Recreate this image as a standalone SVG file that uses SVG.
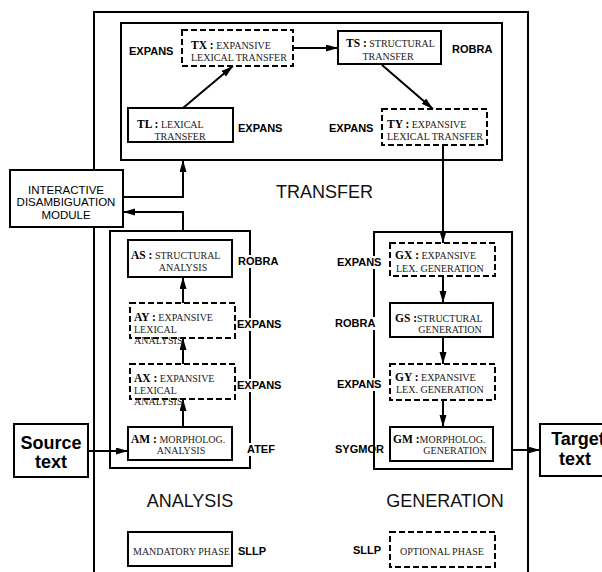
<svg xmlns="http://www.w3.org/2000/svg" width="602" height="572" viewBox="0 0 602 572">
<style>
.box{fill:#fff;stroke:#000;stroke-width:2}
.dbox{fill:#fff;stroke:#000;stroke-width:2;stroke-dasharray:6,3}
.frame{fill:none;stroke:#000;stroke-width:2}
.con{fill:none;stroke:#000;stroke-width:2}
.bg{fill:#fff;stroke:none}
.t{font-family:"Liberation Serif","Times New Roman",serif;font-size:10px;fill:#222}
.b{font-weight:bold;font-size:11.5px;fill:#000}
.lbl{font-family:"Liberation Sans",Arial,sans-serif;font-size:11px;font-weight:bold;fill:#000}
.big{font-family:"Liberation Sans",Arial,sans-serif;font-size:18px;fill:#111}
.st{font-family:"Liberation Sans",Arial,sans-serif;font-size:18px;font-weight:bold;fill:#000;text-anchor:middle}
.idm{font-family:"Liberation Sans",Arial,sans-serif;font-size:11.5px;fill:#000;text-anchor:middle}
</style>
<defs>
<marker id="ah" markerUnits="userSpaceOnUse" markerWidth="13" markerHeight="8" refX="12" refY="3.5" orient="auto">
<path d="M0,0 L12,3.5 L0,7 z" fill="#000"/>
</marker>
</defs>

<g id="frames">
<path class="frame" d="M94,572 V12 H528 V572"/>
<rect class="frame" x="121" y="23" width="381" height="137"/>
<rect class="frame" x="110" y="231" width="140" height="237"/>
<rect class="frame" x="374" y="232" width="138" height="237"/>
</g>

<g id="section-labels">
<text class="big" x="276" y="198">TRANSFER</text>
<text class="big" x="190" y="507" text-anchor="middle">ANALYSIS</text>
<text class="big" x="445" y="507" text-anchor="middle">GENERATION</text>
</g>

<g id="connectors">
<line class="con" x1="183" y1="108" x2="233" y2="66" marker-end="url(#ah)"/>
<line class="con" x1="293" y1="48" x2="338" y2="48" marker-end="url(#ah)"/>
<line class="con" x1="382" y1="65" x2="433" y2="109" marker-end="url(#ah)"/>
<line class="con" x1="443" y1="145" x2="443" y2="243" marker-end="url(#ah)"/>
<line class="con" x1="443" y1="276" x2="443" y2="303" marker-end="url(#ah)"/>
<line class="con" x1="443" y1="337" x2="443" y2="364" marker-end="url(#ah)"/>
<line class="con" x1="443" y1="400" x2="443" y2="427" marker-end="url(#ah)"/>
<line class="con" x1="512" y1="450" x2="540" y2="450" marker-end="url(#ah)"/>
<line class="con" x1="88" y1="451" x2="128" y2="451" marker-end="url(#ah)"/>
<line class="con" x1="183" y1="427" x2="183" y2="399" marker-end="url(#ah)"/>
<line class="con" x1="183" y1="364" x2="183" y2="338" marker-end="url(#ah)"/>
<line class="con" x1="183" y1="303" x2="183" y2="277" marker-end="url(#ah)"/>
<path class="con" d="M123,197 H183 V160" marker-end="url(#ah)"/>
<path class="con" d="M183,231 V212 H123" marker-end="url(#ah)"/>
</g>

<g id="TX">
<rect class="dbox" x="182" y="30" width="111" height="36"/>
<text class="t" x="191" y="49"><tspan class="b">TX :</tspan> EXPANSIVE</text>
<text class="t" x="191" y="61">LEXICAL TRANSFER</text>
<text class="lbl" x="129" y="55">EXPANS</text>
</g>
<g id="TS">
<rect class="box" x="338" y="31" width="103" height="33"/>
<text class="t" x="346" y="47"><tspan class="b">TS :</tspan> STRUCTURAL</text>
<text class="t" x="388" y="60" text-anchor="middle">TRANSFER</text>
<text class="lbl" x="452" y="53">ROBRA</text>
</g>
<g id="TL">
<rect class="box" x="128" y="108" width="105" height="34"/>
<text class="t" x="137" y="128"><tspan class="b">TL :</tspan> LEXICAL</text>
<text class="t" x="180" y="140" text-anchor="middle">TRANSFER</text>
<text class="lbl" x="238" y="132">EXPANS</text>
</g>
<g id="TY">
<rect class="dbox" x="382" y="109" width="105" height="36"/>
<text class="t" x="387" y="128"><tspan class="b">TY :</tspan> EXPANSIVE</text>
<text class="t" x="387" y="140">LEXICAL TRANSFER</text>
<text class="lbl" x="329" y="132">EXPANS</text>
</g>

<g id="IDM">
<rect class="box" x="10" y="170" width="113" height="57"/>
<text class="idm" x="66" y="194">INTERACTIVE</text>
<text class="idm" x="66" y="206">DISAMBIGUATION</text>
<text class="idm" x="66" y="219">MODULE</text>
</g>

<g id="AS">
<rect class="box" x="128" y="240" width="104" height="37"/>
<text class="t" x="131" y="259"><tspan class="b">AS :</tspan> STRUCTURAL</text>
<text class="t" x="183" y="271" text-anchor="middle">ANALYSIS</text>
<rect class="bg" x="237" y="255" width="42" height="13"/>
<text class="lbl" x="238" y="265">ROBRA</text>
</g>
<g id="AY">
<rect class="dbox" x="130" y="303" width="105" height="35"/>
<text class="t" x="134" y="321"><tspan class="b">AY :</tspan> EXPANSIVE</text>
<text class="t" x="134" y="333">LEXICAL</text>
<text class="t" x="134" y="344">ANALYSIS</text>
<rect class="bg" x="237" y="318" width="46" height="13"/>
<text class="lbl" x="237" y="328">EXPANS</text>
</g>
<g id="AX">
<rect class="dbox" x="130" y="364" width="105" height="35"/>
<text class="t" x="134" y="382"><tspan class="b">AX :</tspan> EXPANSIVE</text>
<text class="t" x="134" y="394">LEXICAL</text>
<text class="t" x="134" y="405">ANALYSIS</text>
<rect class="bg" x="237" y="379" width="46" height="13"/>
<text class="lbl" x="237" y="389">EXPANS</text>
</g>
<g id="AM">
<rect class="box" x="128" y="427" width="104" height="33"/>
<text class="t" x="131" y="443"><tspan class="b">AM :</tspan> MORPHOLOG.</text>
<text class="t" x="181" y="454" text-anchor="middle">ANALYSIS</text>
<rect class="bg" x="246" y="443" width="31" height="13"/>
<text class="lbl" x="247" y="453">ATEF</text>
</g>

<g id="source">
<rect class="box" x="14" y="424" width="74" height="53"/>
<text class="st" x="51" y="449">Source</text>
<text class="st" x="51" y="468">text</text>
</g>
<g id="target">
<rect class="box" x="540" y="424" width="74" height="52"/>
<text class="st" x="578" y="445">Target</text>
<text class="st" x="575" y="465">text</text>
</g>

<g id="GX">
<rect class="dbox" x="390" y="243" width="105" height="33"/>
<text class="t" x="395" y="259"><tspan class="b">GX :</tspan> EXPANSIVE</text>
<text class="t" x="396" y="272">LEX. GENERATION</text>
<rect class="bg" x="336" y="256" width="47" height="13"/>
<text class="lbl" x="337" y="266">EXPANS</text>
</g>
<g id="GS">
<rect class="box" x="390" y="303" width="103" height="34"/>
<text class="t" x="395" y="322"><tspan class="b">GS :</tspan>STRUCTURAL</text>
<text class="t" x="450" y="333" text-anchor="middle">GENERATION</text>
<rect class="bg" x="334" y="317" width="42" height="13"/>
<text class="lbl" x="335" y="327">ROBRA</text>
</g>
<g id="GY">
<rect class="dbox" x="390" y="364" width="105" height="36"/>
<text class="t" x="395" y="381"><tspan class="b">GY :</tspan> EXPANSIVE</text>
<text class="t" x="396" y="393">LEX. GENERATION</text>
<rect class="bg" x="336" y="378" width="47" height="13"/>
<text class="lbl" x="337" y="388">EXPANS</text>
</g>
<g id="GM">
<rect class="box" x="390" y="427" width="103" height="34"/>
<text class="t" x="393" y="443"><tspan class="b">GM :</tspan>MORPHOLOG.</text>
<text class="t" x="455" y="454" text-anchor="middle">GENERATION</text>
<text class="lbl" x="335" y="453">SYGMOR</text>
</g>

<g id="legend-mandatory">
<rect class="box" x="128" y="532" width="104" height="34"/>
<text class="t" x="133" y="555">MANDATORY PHASE</text>
<text class="lbl" x="238" y="555">SLLP</text>
</g>
<g id="legend-optional">
<rect class="dbox" x="390" y="532" width="105" height="35"/>
<text class="t" x="400" y="555">OPTIONAL PHASE</text>
<text class="lbl" x="353" y="554">SLLP</text>
</g>
</svg>
